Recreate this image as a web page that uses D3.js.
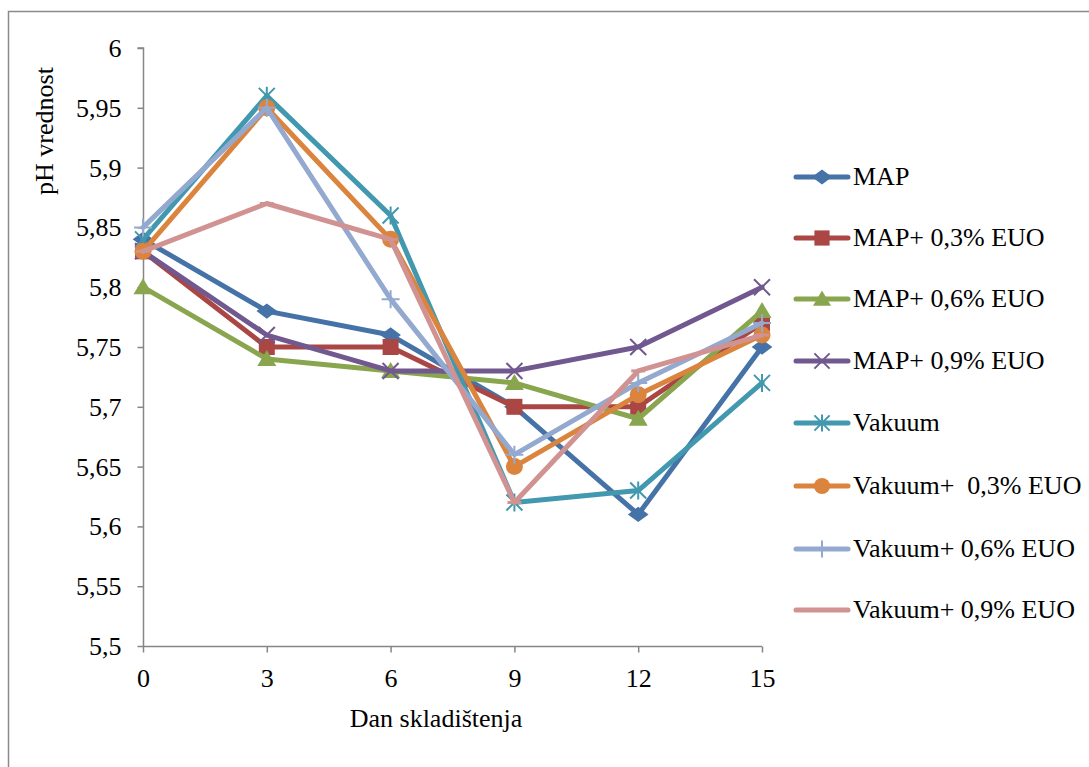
<!DOCTYPE html>
<html>
<head>
<meta charset="utf-8">
<script src="https://cdn.jsdelivr.net/npm/d3@7"></script>
<style>
  html, body { margin: 0; padding: 0; background: #fff; }
  svg { display: block; }
  text { font-family: "Liberation Serif", "Times New Roman", serif; fill: #000; }
</style>
</head>
<body>
<svg id="chart" width="1089" height="767"></svg>
<script>
// Days of storage (x categories)
const days = [0, 3, 6, 9, 12, 15];
const yTicks = [5.5, 5.55, 5.6, 5.65, 5.7, 5.75, 5.8, 5.85, 5.9, 5.95, 6];

// pH values per treatment
const seriesNames = [
  "MAP", "MAP+ 0,3% EUO", "MAP+ 0,6% EUO", "MAP+ 0,9% EUO",
  "Vakuum", "Vakuum+  0,3% EUO", "Vakuum+ 0,6% EUO", "Vakuum+ 0,9% EUO"
];
const mapValues     = [5.84, 5.78, 5.76, 5.70, 5.61, 5.75];
const map03Values   = [5.83, 5.75, 5.75, 5.70, 5.70, 5.77];
const map06Values   = [5.80, 5.74, 5.73, 5.72, 5.69, 5.78];
const map09Values   = [5.83, 5.76, 5.73, 5.73, 5.75, 5.80];
const vakValues     = [5.84, 5.96, 5.86, 5.62, 5.63, 5.72];
const vak03Values   = [5.83, 5.95, 5.84, 5.65, 5.71, 5.76];
const vak06Values   = [5.85, 5.95, 5.79, 5.66, 5.72, 5.77];
const vak09Values   = [5.83, 5.87, 5.84, 5.62, 5.73, 5.76];

const seriesValues = [mapValues, map03Values, map06Values, map09Values,
                      vakValues, vak03Values, vak06Values, vak09Values];
const colors = ["#4572A7", "#AA4643", "#89A54E", "#71588F",
                "#4198AF", "#DB843D", "#93A9CF", "#D19392"];
const markers = ["diamond", "square", "triangle", "x", "star", "circle", "plus", "dash"];

const svg = d3.select("#chart");

// outer frame (left and top edges)
svg.append("path")
  .attr("d", "M8.5,767 V11.5 H1089")
  .attr("fill", "none").attr("stroke", "#8a8a8a").attr("stroke-width", 1.5);

const x = d3.scaleLinear().domain([0, 15]).range([143, 762]);
const y = d3.scaleLinear().domain([5.5, 6]).range([646, 48]);

const fmt = d => String(+d.toFixed(2)).replace(".", ",");
const FS = "26px";

// y axis
const yAxis = svg.append("g").attr("transform", "translate(143.5,0)")
  .call(d3.axisLeft(y).tickValues(yTicks).tickSize(6).tickPadding(16).tickFormat(fmt));
yAxis.selectAll("path, line").attr("stroke", "#868686").attr("stroke-width", 1.5);
yAxis.selectAll("text").style("font-size", FS).style("font-family", "Liberation Serif")
  .attr("dy", "0.33em");
yAxis.select(".domain").attr("d", "M-6," + y(6) + "H0V" + y(5.5));

// x axis
const xAxis = svg.append("g").attr("transform", "translate(0,646.5)")
  .call(d3.axisBottom(x).tickValues(days).tickSize(6).tickFormat(d => d));
xAxis.selectAll("path, line").attr("stroke", "#868686").attr("stroke-width", 1.5);
xAxis.selectAll("text").style("font-size", FS).style("font-family", "Liberation Serif")
  .attr("y", 40).attr("dy", 0);
xAxis.select(".domain").attr("d", "M" + x(0) + ",0H" + x(15));

// axis titles
svg.append("text")
  .attr("transform", "translate(53,131) rotate(-90)")
  .attr("text-anchor", "middle")
  .style("font-size", FS)
  .text("pH vrednost");
svg.append("text")
  .attr("x", 436).attr("y", 727)
  .attr("text-anchor", "middle")
  .style("font-size", FS)
  .text("Dan skladištenja");

// marker drawing
function drawMarker(g, type, color, cx, cy, scale) {
  const s = scale || 1;
  switch (type) {
    case "diamond":
      g.append("path").attr("d", d3.symbol().type(d3.symbolDiamond2).size(150 * s)())
        .attr("transform", `translate(${cx},${cy}) scale(1.35,1)`).attr("fill", color);
      break;
    case "square":
      g.append("rect").attr("x", cx - 8 * s).attr("y", cy - 8 * s)
        .attr("width", 16 * s).attr("height", 16 * s).attr("fill", color);
      break;
    case "triangle":
      g.append("path")
        .attr("d", `M${cx},${cy - 9 * s}L${cx + 9.5 * s},${cy + 7 * s}L${cx - 9.5 * s},${cy + 7 * s}Z`)
        .attr("fill", color);
      break;
    case "circle":
      g.append("circle").attr("cx", cx).attr("cy", cy).attr("r", 8.5 * s).attr("fill", color);
      break;
    case "x":
      g.append("path")
        .attr("d", `M${cx - 8 * s},${cy - 8 * s}L${cx + 8 * s},${cy + 8 * s}M${cx - 8 * s},${cy + 8 * s}L${cx + 8 * s},${cy - 8 * s}`)
        .attr("stroke", color).attr("stroke-width", 2).attr("fill", "none");
      break;
    case "star":
      g.append("path")
        .attr("d", `M${cx - 8 * s},${cy - 8 * s}L${cx + 8 * s},${cy + 8 * s}M${cx - 8 * s},${cy + 8 * s}L${cx + 8 * s},${cy - 8 * s}M${cx},${cy - 9 * s}V${cy + 9 * s}`)
        .attr("stroke", color).attr("stroke-width", 2).attr("fill", "none");
      break;
    case "plus":
      g.append("path")
        .attr("d", `M${cx - 9 * s},${cy}H${cx + 9 * s}M${cx},${cy - 9 * s}V${cy + 9 * s}`)
        .attr("stroke", color).attr("stroke-width", 2).attr("fill", "none");
      break;
    case "dash":
      g.append("path")
        .attr("d", `M${cx - 7 * s},${cy}H${cx + 7 * s}`)
        .attr("stroke", color).attr("stroke-width", 3).attr("fill", "none");
      break;
  }
}

const line = d3.line().x((d, i) => x(days[i])).y(d => y(d));

seriesValues.forEach((vals, k) => {
  const g = svg.append("g");
  g.append("path").datum(vals)
    .attr("d", line)
    .attr("fill", "none")
    .attr("stroke", colors[k])
    .attr("stroke-width", 5)
    .attr("stroke-linejoin", "round")
    .attr("stroke-linecap", "round");
  vals.forEach((v, i) => drawMarker(g, markers[k], colors[k], x(days[i]), y(v)));
});

// legend
const legendY = [177, 238, 299, 361, 423, 486, 549, 610];
seriesNames.forEach((name, k) => {
  const g = svg.append("g");
  const ly = legendY[k];
  g.append("line").attr("x1", 796).attr("x2", 848).attr("y1", ly).attr("y2", ly)
    .attr("stroke", colors[k]).attr("stroke-width", 5).attr("stroke-linecap", "round");
  if (markers[k] !== "dash") drawMarker(g, markers[k], colors[k], 822, ly, 0.95);
  g.append("text").attr("x", 853).attr("y", ly + 8)
    .style("font-size", FS).style("white-space", "pre").text(name);
});
</script>
</body>
</html>
